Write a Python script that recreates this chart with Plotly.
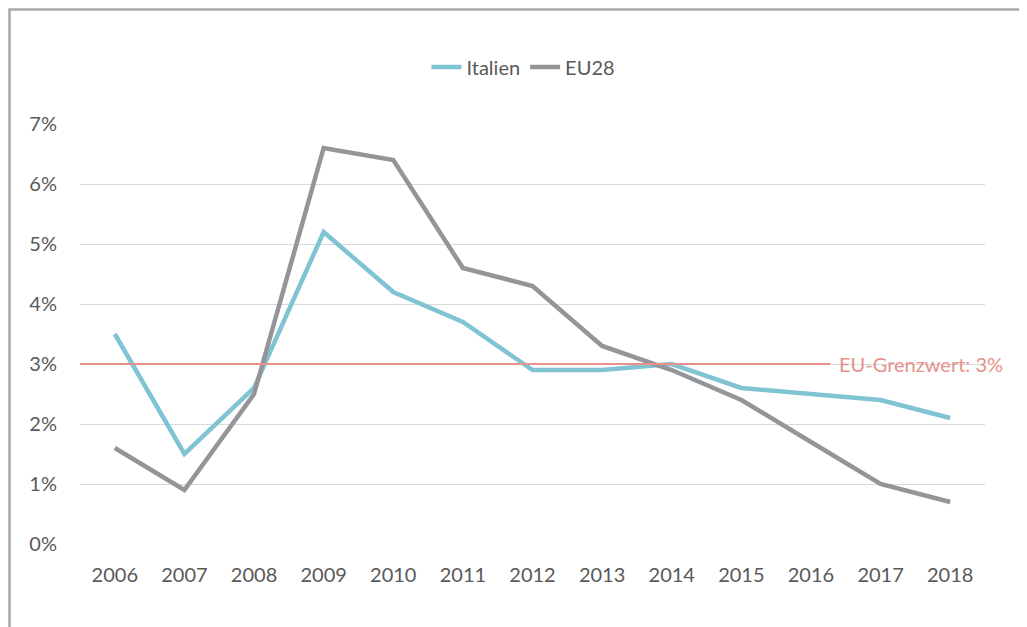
import plotly.graph_objects as go

years = ["2006", "2007", "2008", "2009", "2010", "2011", "2012",
         "2013", "2014", "2015", "2016", "2017", "2018"]
italien = [3.5, 1.5, 2.6, 5.2, 4.2, 3.7, 2.9, 2.9, 3.0, 2.6, 2.5, 2.4, 2.1]
eu28 = [1.6, 0.9, 2.5, 6.6, 6.4, 4.6, 4.3, 3.3, 2.9, 2.4, 1.7, 1.0, 0.7]
grenzwert = 3.0
grenz_label = "EU-Grenzwert: 3%"
y_ticks = [0, 1, 2, 3, 4, 5, 6, 7]
y_labels = ["0%", "1%", "2%", "3%", "4%", "5%", "6%", "7%"]

FONT = "Lato, 'Open Sans', sans-serif"
TXT = "#595959"
FS = 20
RED = "#e6918a"

fig = go.Figure()
# threshold line (drawn first, beneath the data lines) on an overlay x axis
fig.add_trace(go.Scatter(x=[0, 0.829], y=[grenzwert, grenzwert], mode="lines",
                         xaxis="x2", showlegend=False, hoverinfo="skip",
                         line=dict(color=RED, width=2)))
fig.add_trace(go.Scatter(x=years, y=italien, mode="lines", name="Italien",
                         line=dict(color="#80c3d3", width=4.5)))
fig.add_trace(go.Scatter(x=years, y=eu28, mode="lines", name="EU28",
                         line=dict(color="#939598", width=4.5)))

fig.add_annotation(xref="paper", yref="y", x=0.836, y=grenzwert,
                   text=grenz_label, showarrow=False, xanchor="left",
                   yanchor="middle",
                   font=dict(family=FONT, size=FS, color=RED))

# outer frame
fig.add_shape(type="rect", xref="paper", yref="paper",
              x0=-0.0779, x1=1.2, y0=-0.4, y1=1.2726,
              line=dict(color="#a9a9ab", width=2.5), layer="below")

fig.update_layout(
    width=1027, height=627,
    margin=dict(l=72, r=50, t=116, b=91),
    paper_bgcolor="white", plot_bgcolor="white",
    font=dict(family=FONT, size=FS, color=TXT),
    showlegend=True,
    legend=dict(orientation="h", x=0.49, xanchor="center", y=1.136,
                yanchor="middle", font=dict(family=FONT, size=FS, color=TXT),
                bgcolor="rgba(0,0,0,0)", tracegroupgap=0),
    xaxis=dict(type="category", range=[-0.5, 12.5], showgrid=False,
               showline=False, ticks="", tickfont=dict(size=FS, color=TXT),
               ticklabelstandoff=17),
    xaxis2=dict(overlaying="x", range=[0, 1], visible=False,
                showgrid=False, zeroline=False),
    yaxis=dict(range=[0, 7], tickvals=y_ticks, ticktext=y_labels,
               showgrid=True, gridcolor="#d9d9d9", gridwidth=1.3,
               zeroline=False, showline=False, ticks="",
               tickfont=dict(size=FS, color=TXT), ticklabelstandoff=22),
)

fig.write_html("out.html")
